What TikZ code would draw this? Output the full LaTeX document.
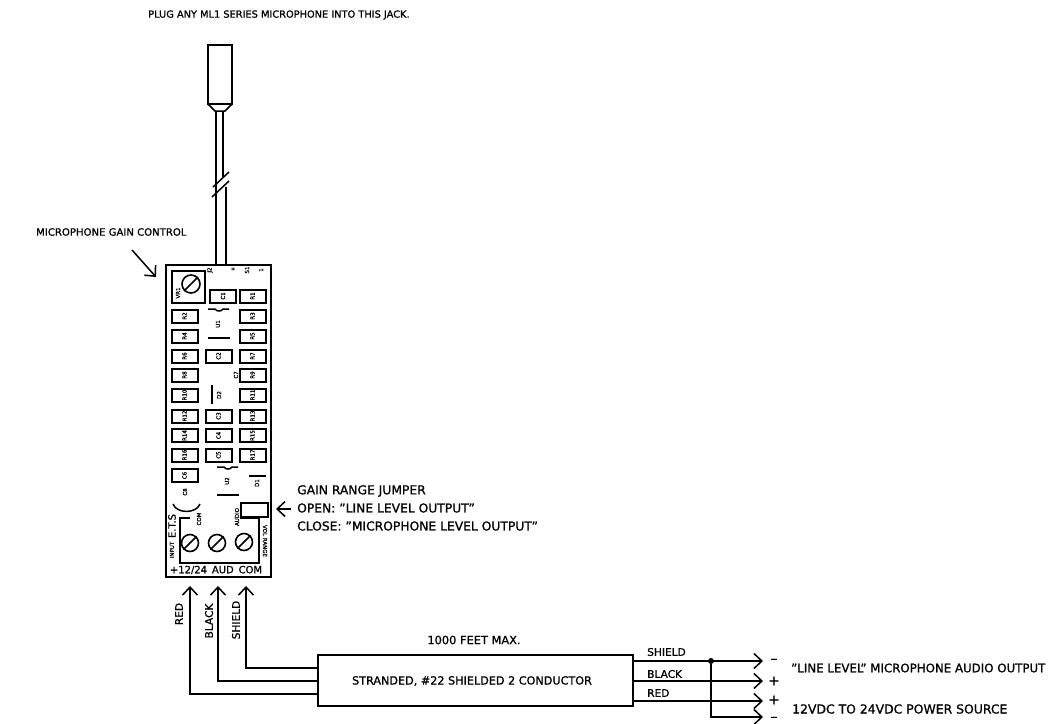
\documentclass[tikz,border=0pt]{standalone}
\usepackage{fontspec}
\setmainfont{DejaVu Sans}[FakeBold=1]
\usetikzlibrary{arrows.meta}
\tikzset{
	wire/.style={line width=1.5pt},
	arrowwire/.style={line width=1.5pt,-{Straight Barb[length=8pt,width=15pt,line width=1.5pt]}},
	note/.style={font=\fontsize{#1}{14}\selectfont,inner sep=0pt,anchor=west},
	note/.default=10.6,
	tiny/.style={font=\fontsize{5.5}{6}\selectfont,inner sep=0pt,rotate=90},
	part/.style 2 args={draw,line width=2pt,minimum width=26pt,minimum height=13pt,inner sep=0pt,label={[tiny]center:#2},name=#1},
	screw/.style={circle,draw,line width=1.6pt,minimum size=17pt,inner sep=0pt,name=#1}
}
\begin{document}
\begin{tikzpicture}[x=1pt,y=-1pt]
	\useasboundingbox (0,0) rectangle (1057,723);

	\node [note=9.8,name=plugtext] at (148,15) {PLUG ANY ML1 SERIES MICROPHONE INTO THIS JACK.};
	\node [note=10.1,name=gaintext] at (36,232) {MICROPHONE GAIN CONTROL};

	% jack and cable
	\draw [wire] (208,104) -- (208,45) -- (232,45) -- (232,104) -- cycle;
	\draw [wire] (208,104) -- (215,111) -- (225,111) -- (232,104);
	\draw [wire] (216,111) -- (216,265);
	\draw [wire] (223,111) -- (223,177);
	\draw [wire] (226,187) -- (226,265);
	\draw [wire] (213,187) -- (229,172);
	\draw [wire] (212,197) -- (229,181);

	% board
	\node [draw,line width=1.7pt,minimum width=105pt,minimum height=312pt,inner sep=0pt,name=board] at (218.5,421) {};
	\coordinate (gainstart) at (132,250);
	\coordinate (gainend) at (156,277);
	\draw [arrowwire] (gainstart) -- (gainend);

	\node [draw,line width=1.7pt,minimum width=33pt,minimum height=32pt,inner sep=0pt,name=potbox] at (188.5,287) {};
	\node [circle,draw,line width=1.6pt,minimum size=18pt,inner sep=0pt,name=pot] at (191,284) {};
	\draw [wire] (pot.south west) -- (pot.north east);
	\node [tiny,name=potlabel] at (178,293) {VR1};
	\node [tiny,name=j2label] at (210,270) {J2};
	\node [tiny,name=pluslabel] at (233,269) {+};
	\node [tiny,name=s1label] at (247,270) {S1};
	\node [tiny,name=onelabel] at (261,270) {1};

	\node [part={c1}{C1}] at (223,296) {};
	\node [part={r1}{R1}] at (252.5,296) {};
	\node [part={r2}{R2}] at (184.5,316) {};
	\node [part={r3}{R3}] at (252.5,316) {};
	\node [part={r4}{R4}] at (184.5,336) {};
	\node [part={r5}{R5}] at (252.5,336) {};
	\node [part={r6}{R6}] at (184.5,356) {};
	\node [part={c2}{C2}] at (218.5,356) {};
	\node [part={r7}{R7}] at (252.5,356) {};
	\node [part={r8}{R8}] at (184.5,375) {};
	\node [part={r9}{R9}] at (252.5,375) {};
	\node [part={r10}{R10}] at (184.5,395) {};
	\node [part={r11}{R11}] at (252.5,395) {};
	\node [part={r12}{R12}] at (184.5,416) {};
	\node [part={c3}{C3}] at (218.5,416) {};
	\node [part={r13}{R13}] at (252.5,416) {};
	\node [part={r14}{R14}] at (184.5,435.5) {};
	\node [part={c4}{C4}] at (218.5,435.5) {};
	\node [part={r15}{R15}] at (252.5,435.5) {};
	\node [part={r16}{R16}] at (184.5,455) {};
	\node [part={c5}{C5}] at (218.5,455) {};
	\node [part={r17}{R17}] at (252.5,455) {};
	\node [part={c6}{C6}] at (184.5,475.5) {};

	% chips and small parts
	\draw [wire] (208,309) -- (215,309) to [bend right=60] (223,309) -- (229,309);
	\draw [wire] (208,338) -- (230,338);
	\node [tiny,name=u1label] at (218,324) {U1};
	\draw [wire] (217,467) -- (224,467) to [bend right=60] (232,467) -- (238,467);
	\draw [wire] (217,495) -- (239,495);
	\node [tiny,name=u2label] at (227,481) {U2};
	\draw [wire] (249,476) -- (266,476);
	\node [tiny,name=d1label] at (257,483) {D1};
	\draw [wire] (212,385) -- (212,404);
	\node [tiny,name=d2label] at (219,395) {D2};
	\node [tiny,name=c7label] at (236,375) {C7};
	\node [tiny,name=c8label] at (185,492) {C8};
	\draw [wire] (173,504) to [bend right=70] (200,504);

	% terminals
	\node [draw,line width=1.7pt,minimum width=27pt,minimum height=14pt,inner sep=0pt,name=jumper] at (254.5,510) {};
	\draw [wire] (190,518) -- (180,518) -- (180,563) -- (259,563) -- (259,518) -- (240,518);
	\node [screw=t1] at (190,543) {};
	\node [screw=t2] at (217,543) {};
	\node [screw=t3] at (244,542) {};
	\draw [wire] (t1.south west) -- (t1.north east);
	\draw [wire] (t2.south west) -- (t2.north east);
	\draw [wire] (t3.south west) -- (t3.north east);
	\node [tiny,name=etslabel,font=\fontsize{10}{11}\selectfont] at (172,526) {E.T.S};
	\node [tiny,name=inputlabel] at (172,550) {INPUT};
	\node [tiny,name=comlabel] at (199,519) {COM};
	\node [tiny,name=audiolabel] at (237,517) {AUDIO};
	\node [tiny,name=rangelabel,rotate=180] at (265,541) {VOL RANGE};
	\node [font=\fontsize{10}{11}\selectfont,inner sep=0pt,name=termlabel] at (216,570) {+12/24 \,AUD \,COM};

	% gain range jumper
	\node [note=12.3,name=jumptext] at (297,491) {GAIN RANGE JUMPER};
	\node [note=12.3,name=opentext] at (297,508) {OPEN: "LINE LEVEL OUTPUT"};
	\node [note=12.3,name=closetext] at (297,526) {CLOSE: "MICROPHONE LEVEL OUTPUT"};
	\coordinate (jumpstart) at (291,509);
	\coordinate (jumpend) at (276,509);
	\draw [arrowwire] (jumpstart) -- (jumpend);

	% cable box
	\node [draw,line width=1.7pt,minimum width=315pt,minimum height=51pt,inner sep=0pt,name=cable] at (475.5,680.5) {};
	\node [note=11.2,anchor=center,name=cabletext] at (472,681) {STRANDED, \#22 SHIELDED 2 CONDUCTOR};
	\node [note=11.4,anchor=center,name=feettext] at (474,640) {1000 FEET MAX.};

	\coordinate (shieldin) at (318,668);
	\coordinate (blackin) at (318,681);
	\coordinate (redin) at (318,694);
	\coordinate (shieldup) at (246,586);
	\coordinate (blackup) at (218,586);
	\coordinate (redup) at (190,586);
	\draw [arrowwire] (shieldin) -| (shieldup);
	\draw [arrowwire] (blackin) -| (blackup);
	\draw [arrowwire] (redin) -| (redup);
	\node [note,anchor=center,rotate=90,name=redtext] at (179,614) {RED};
	\node [note,anchor=center,rotate=90,name=blacktext] at (209,621) {BLACK};
	\node [note,anchor=center,rotate=90,name=shieldtext] at (236,620) {SHIELD};

	% outputs
	\coordinate (shieldout) at (763,661);
	\coordinate (blackout) at (763,681);
	\coordinate (redout) at (763,701);
	\coordinate (comout) at (763,717);
	\coordinate (shieldbox) at (633,661);
	\coordinate (blackbox) at (633,681);
	\coordinate (redbox) at (633,701);
	\draw [arrowwire] (shieldbox) -- (shieldout);
	\draw [arrowwire] (blackbox) -- (blackout);
	\draw [arrowwire] (redbox) -- (redout);
	\node [circle,fill,inner sep=0pt,minimum size=6pt,name=joint] at (711,661) {};
	\draw [arrowwire] (joint) |- (comout);
	\node [note,name=shieldname] at (647,652) {SHIELD};
	\node [note,name=blackname] at (647,674) {BLACK};
	\node [note,name=redname] at (647,693) {RED};
	\node [note=14,anchor=center,name=minusa] at (774,661) {--};
	\node [note=14,anchor=center,name=plusa] at (774,681) {+};
	\node [note=14,anchor=center,name=plusb] at (774,700) {+};
	\node [note=14,anchor=center,name=minusb] at (774,719) {--};
	\node [note=11.8,name=linetext] at (791,668) {"LINE LEVEL" MICROPHONE AUDIO OUTPUT};
	\node [note=12.4,name=powertext] at (792,709) {12VDC TO 24VDC POWER SOURCE};
\end{tikzpicture}
\end{document}
